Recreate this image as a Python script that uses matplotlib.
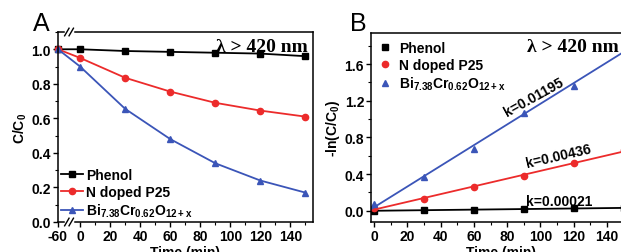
import numpy as np
import matplotlib
matplotlib.use('Agg')
import matplotlib.pyplot as plt
from matplotlib.ticker import MultipleLocator, FixedLocator
import matplotlib.transforms as mtransforms

plt.rcParams['font.family'] = ['Liberation Sans', 'DejaVu Sans']
plt.rcParams['font.weight'] = 'bold'
plt.rcParams['axes.unicode_minus'] = False
plt.rcParams['mathtext.fontset'] = 'custom'
plt.rcParams['mathtext.rm'] = 'Liberation Sans:bold'
plt.rcParams['mathtext.it'] = 'Liberation Sans:bold'
plt.rcParams['mathtext.bf'] = 'Liberation Sans:bold'

########### data ###########
# panel A : C/C0 vs time (first point is the dark adsorption at -60 min)
t_a = [-60, 0, 30, 60, 90, 120, 150]
phenol_a = [1.0, 1.0, 0.99, 0.985, 0.98, 0.975, 0.96]
ntio2_a = [1.0, 0.95, 0.835, 0.755, 0.69, 0.645, 0.61]
bicr_a = [1.0, 0.90, 0.655, 0.48, 0.34, 0.24, 0.17]

# panel B : -ln(C/C0) vs time
t_b = [0, 30, 60, 90, 120, 150]
phenol_b = [0.0, 0.005, 0.01, 0.02, 0.025, 0.03]
ntio2_b = [0.03, 0.13, 0.255, 0.38, 0.52, 0.66]
bicr_b = [0.07, 0.37, 0.67, 1.07, 1.36, 1.77]
k_labels = ['k=0.00021', 'k=0.00436', 'k=0.01195']

names = ['Phenol', 'N doped P25', 'Bi$_{7.38}$Cr$_{0.62}$O$_{12+x}$']
colors = ['black', '#ec2b2b', '#3b55b8']
markers = ['s', 'o', '^']

fs = 10
gap = 14.7  # width (in min units) of the broken -60..0 stretch


def fwd(x):
    x = np.asarray(x, dtype=float)
    return np.where(x < 0, x * gap / 60.0, x)


def inv(x):
    x = np.asarray(x, dtype=float)
    return np.where(x < 0, x * 60.0 / gap, x)


fig = plt.figure(figsize=(6.21, 2.53), dpi=100)
axA = fig.add_axes([58/621, 30/253, 255/621, 190/253])
axB = fig.add_axes([371/621, 30.3/253, 261/621, 188.7/253])

##### panel A #####
axA.set_xscale('function', functions=(fwd, inv))
for y, c, m, n in zip([phenol_a, ntio2_a, bicr_a], colors, markers, names):
    axA.plot(t_a, y, color=c, marker=m, ms=4.5, lw=1.3, label=n, clip_on=False)

axA.set_xlim(-60, 155)
axA.set_ylim(0, 1.1)
axA.xaxis.set_major_locator(FixedLocator([-60, 0, 20, 40, 60, 80, 100, 120, 140]))
axA.xaxis.set_minor_locator(FixedLocator([10, 30, 50, 70, 90, 110, 130, 150]))
axA.set_xticklabels(['-60', '0', '20', '40', '60', '80', '100', '120', '140'])
axA.yaxis.set_major_locator(MultipleLocator(0.2))
axA.yaxis.set_minor_locator(MultipleLocator(0.1))
axA.set_xlabel('Time (min)', fontsize=fs, fontweight='bold', labelpad=1.5)
axA.set_ylabel('C/C$_0$', fontsize=fs, fontweight='bold', labelpad=2)
axA.legend(loc='lower left', frameon=False, handlelength=1.6,
           handletextpad=0.2, labelspacing=0.2, borderaxespad=0.1,
           borderpad=0.1, prop={'weight': 'bold', 'size': fs})
axA.text(0.98, 0.925, 'λ > 420 nm', transform=axA.transAxes, ha='right',
         va='center', fontsize=14, fontweight='bold', family='Liberation Serif')

# break marks on the axis
trans = mtransforms.blended_transform_factory(axA.transData, axA.transAxes)
for yy in [0, 1]:
    axA.plot([-38, -22], [yy, yy], color='white', lw=2.5, transform=trans,
             clip_on=False, zorder=5)
    for dx in [-36, -24]:
        axA.plot([dx - 6, dx + 6], [yy - 0.02, yy + 0.02], color='black', lw=1,
                 transform=trans, clip_on=False, zorder=6)

##### panel B #####
t_fit = np.linspace(-1.8, 155, 50)
for y, c, m, n in zip([phenol_b, ntio2_b, bicr_b], colors, markers, names):
    axB.plot(t_b, y, ls='none', color=c, marker=m, ms=4.5, label=n)
    p = np.polyfit(t_b, y, 1)
    axB.plot(t_fit, np.polyval(p, t_fit), color=c, lw=1.3)

axB.set_xlim(-1.8, 155)
axB.set_ylim(-0.12, 1.94)
axB.xaxis.set_major_locator(MultipleLocator(20))
axB.xaxis.set_minor_locator(MultipleLocator(10))
axB.yaxis.set_major_locator(MultipleLocator(0.4))
axB.yaxis.set_minor_locator(MultipleLocator(0.2))
axB.set_xlabel('Time (min)', fontsize=fs, fontweight='bold', labelpad=1.5)
axB.set_ylabel('-ln(C/C$_0$)', fontsize=fs, fontweight='bold', labelpad=2)
axB.legend(loc='upper left', frameon=False, handlelength=0.8,
           handletextpad=0.6, labelspacing=0.2, borderaxespad=0.5,
           borderpad=0.1, prop={'weight': 'bold', 'size': fs})
axB.text(527/621, 1 - 47/253, 'λ > 420 nm', transform=fig.transFigure, ha='left',
         va='center', fontsize=14, fontweight='bold', family='Liberation Serif')
axB.text(111, 0.105, k_labels[0], fontsize=fs, fontweight='bold', ha='center', va='center')
axB.text(111, 0.60, k_labels[1], fontsize=fs, fontweight='bold', ha='center', va='center',
         rotation=13)
axB.text(96, 1.25, k_labels[2], fontsize=fs, fontweight='bold', ha='center', va='center',
         rotation=29)

for ax in [axA, axB]:
    ax.tick_params(which='major', direction='out', length=3.5, width=1, labelsize=fs, pad=1.5)
    ax.tick_params(which='minor', direction='out', length=2, width=0.8)
    for lab in ax.get_xticklabels() + ax.get_yticklabels():
        lab.set_fontweight('bold')
    for s in ax.spines.values():
        s.set_linewidth(1.1)

fig.text(33/621, 1 - 24/253, 'A', fontsize=18, fontweight='normal', ha='left', va='center')
fig.text(350/621, 1 - 24/253, 'B', fontsize=18, fontweight='normal', ha='left', va='center')

plt.savefig('out.png', dpi=100)
plt.close()
